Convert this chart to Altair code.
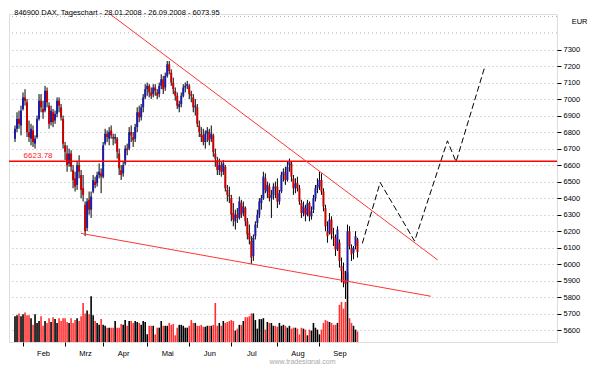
import altair as alt
import pandas as pd

title_text = "846900  DAX, Tageschart - 28.01.2008 - 26.09.2008 - 6073.95"
currency = "EUR"
watermark = "www.tradesignal.com"

month_labels = ["Feb", "Mrz", "Apr", "Mai", "Jun", "Jul", "Aug", "Sep"]
month_starts = [4, 25, 44, 66, 87, 108, 131, 152]
price_ticks = list(range(5600, 7400, 100))
extra_grid = [7400, 7500]

opens = [
    6760, 6820, 6880, 6840, 6940, 7010, 6980, 6800, 6760, 6810,
    6730, 6770, 6880, 6990, 6940, 6930, 7050, 6960, 6860, 6920,
    6870, 6910, 6990, 6950, 6880, 6720, 6670, 6610, 6670, 6570,
    6520, 6480, 6600, 6540, 6460, 6360, 6220, 6390, 6330, 6440,
    6500, 6490, 6540, 6550, 6530, 6730, 6790, 6760, 6810, 6770,
    6760, 6760, 6670, 6570, 6550, 6610, 6700, 6700, 6800, 6770,
    6760, 6830, 6920, 6890, 6950, 7010, 7060, 7080, 7040, 7030,
    7070, 7040, 7030, 7080, 7120, 7070, 7140, 7210, 7160, 7100,
    7050, 7020, 6950, 6970, 7020, 7070, 7080, 7080, 7030, 7010,
    6950, 6950, 6840, 6790, 6780, 6740, 6790, 6800, 6760, 6780,
    6670, 6630, 6570, 6600, 6560, 6590, 6450, 6420, 6400, 6310,
    6260, 6300, 6280, 6370, 6310, 6340, 6260, 6190, 6140, 6050,
    6170, 6250, 6300, 6370, 6400, 6520, 6440, 6470, 6400, 6420,
    6470, 6470, 6380, 6440, 6540, 6550, 6510, 6600, 6610, 6520,
    6460, 6490, 6460, 6370, 6310, 6340, 6300, 6370, 6290, 6330,
    6400, 6460, 6470, 6510, 6440, 6340, 6200, 6190, 6270, 6170,
    6160, 6090, 6130, 5990, 5960, 5900, 5890, 6200, 6100, 6070,
    6110, 6150,
]
highs = [
    6840, 6920, 6930, 6960, 7040, 7060, 7000, 6870, 6850, 6840,
    6780, 6900, 7030, 7030, 6990, 7080, 7070, 6980, 6960, 6940,
    6930, 7010, 7010, 6970, 6900, 6740, 6720, 6700, 6690, 6600,
    6560, 6620, 6660, 6570, 6540, 6380, 6400, 6440, 6440, 6540,
    6530, 6560, 6610, 6580, 6740, 6820, 6810, 6830, 6840, 6790,
    6790, 6770, 6700, 6600, 6620, 6720, 6730, 6830, 6840, 6800,
    6850, 6950, 6960, 6970, 7030, 7090, 7100, 7090, 7070, 7090,
    7090, 7060, 7100, 7150, 7140, 7160, 7230, 7230, 7180, 7130,
    7070, 7040, 6990, 7040, 7090, 7100, 7110, 7090, 7050, 7030,
    7000, 6970, 6870, 6830, 6820, 6810, 6830, 6820, 6840, 6790,
    6700, 6650, 6640, 6620, 6630, 6600, 6480, 6470, 6420, 6370,
    6330, 6340, 6410, 6390, 6380, 6350, 6280, 6240, 6170, 6180,
    6260, 6330, 6400, 6420, 6560, 6550, 6500, 6490, 6450, 6490,
    6500, 6520, 6450, 6560, 6580, 6590, 6620, 6640, 6620, 6540,
    6520, 6530, 6480, 6390, 6380, 6360, 6390, 6380, 6350, 6420,
    6480, 6520, 6560, 6550, 6460, 6360, 6260, 6310, 6290, 6220,
    6180, 6230, 6150, 6040, 6010, 5960, 6240, 6230, 6120, 6110,
    6200, 6160,
]
lows = [
    6740, 6800, 6820, 6780, 6930, 6960, 6770, 6740, 6720, 6710,
    6700, 6760, 6870, 6920, 6880, 6920, 6950, 6820, 6840, 6830,
    6850, 6890, 6920, 6870, 6700, 6630, 6560, 6590, 6560, 6460,
    6440, 6450, 6520, 6400, 6380, 6170, 6200, 6300, 6280, 6430,
    6460, 6470, 6520, 6430, 6520, 6720, 6740, 6720, 6760, 6720,
    6730, 6640, 6540, 6510, 6530, 6600, 6660, 6690, 6740, 6710,
    6740, 6800, 6860, 6870, 6920, 7000, 7020, 7010, 7000, 7010,
    7020, 7000, 7010, 7060, 7030, 7050, 7130, 7150, 7080, 7030,
    6990, 6940, 6920, 6950, 7010, 7040, 7060, 7000, 6980, 6920,
    6900, 6830, 6770, 6740, 6720, 6700, 6740, 6720, 6740, 6650,
    6590, 6540, 6540, 6530, 6540, 6440, 6380, 6370, 6260, 6230,
    6210, 6250, 6270, 6280, 6290, 6230, 6150, 6120, 6000, 6020,
    6150, 6220, 6280, 6330, 6390, 6430, 6400, 6380, 6280, 6390,
    6400, 6340, 6360, 6430, 6500, 6480, 6500, 6560, 6500, 6420,
    6430, 6440, 6360, 6280, 6290, 6260, 6290, 6260, 6270, 6310,
    6380, 6430, 6450, 6420, 6320, 6200, 6130, 6180, 6150, 6110,
    6050, 6080, 5980, 5890, 5860, 5790, 5880, 6090, 6020, 6030,
    6090, 6040,
]
closes = [
    6820, 6880, 6850, 6930, 7010, 6990, 6800, 6770, 6820, 6740,
    6760, 6880, 6990, 6950, 6920, 7050, 6980, 6850, 6930, 6860,
    6910, 6990, 6960, 6890, 6730, 6680, 6600, 6670, 6590, 6510,
    6470, 6600, 6560, 6450, 6420, 6200, 6380, 6330, 6410, 6510,
    6480, 6540, 6560, 6530, 6720, 6790, 6770, 6800, 6780, 6760,
    6770, 6680, 6580, 6540, 6600, 6700, 6690, 6800, 6780, 6750,
    6830, 6920, 6890, 6950, 7010, 7060, 7080, 7040, 7020, 7070,
    7050, 7020, 7080, 7120, 7060, 7140, 7210, 7170, 7100, 7060,
    7020, 6960, 6970, 7020, 7070, 7080, 7090, 7030, 7020, 6950,
    6960, 6850, 6800, 6770, 6740, 6790, 6810, 6750, 6790, 6680,
    6640, 6570, 6600, 6560, 6610, 6460, 6420, 6410, 6300, 6270,
    6300, 6280, 6380, 6300, 6350, 6260, 6180, 6150, 6040, 6160,
    6240, 6300, 6380, 6400, 6530, 6450, 6480, 6400, 6420, 6470,
    6460, 6380, 6430, 6540, 6560, 6510, 6590, 6620, 6530, 6460,
    6490, 6460, 6380, 6310, 6350, 6300, 6370, 6290, 6320, 6400,
    6460, 6480, 6510, 6440, 6350, 6230, 6170, 6270, 6180, 6160,
    6090, 6210, 6020, 5960, 5890, 5880, 6200, 6110, 6060, 6100,
    6170, 6073.95,
]
volumes = [
    27, 28, 30, 27, 29, 31, 28, 28, 25, 18,
    29, 20, 22, 27, 17, 22, 20, 25, 21, 26,
    24, 20, 25, 22, 25, 25, 21, 20, 25, 20,
    23, 25, 22, 27, 41, 30, 33, 29, 48, 28,
    22, 20, 18, 24, 18, 17, 15, 15, 15, 15,
    22, 15, 15, 19, 18, 23, 17, 22, 22, 20,
    22, 21, 20, 18, 22, 21, 8, 17, 17, 17,
    8, 15, 15, 22, 17, 17, 17, 20, 18, 19,
    7, 15, 18, 18, 17, 15, 15, 17, 23, 20,
    20, 17, 17, 18, 16, 16, 17, 17, 17, 18,
    41, 17, 20, 17, 22, 20, 21, 22, 23, 22,
    12, 14, 18, 18, 22, 26, 26, 27, 30, 30,
    23, 14, 24, 24, 25, 13, 21, 20, 20, 17,
    17, 16, 20, 17, 18, 17, 15, 17, 14, 15,
    15, 14, 8, 15, 14, 13, 7, 13, 12, 20,
    15, 13, 8, 13, 20, 23, 22, 21, 20, 18,
    18, 20, 39, 42, 35, 42, 73, 25, 20, 17,
    13, 11,
]

level_value = 6623.78
level_label = "6623.78"
level_label_at = 4.3

upper_x = [47.4, 211.0]
upper_y = [7515, 6026]
lower_x = [32.9, 207.6]
lower_y = [6187, 5806]
proj_x = [173.4, 182.3, 199.5, 215.9, 220.2, 234.3]
proj_y = [6126, 6495, 6140, 6747, 6620, 7186]

FONT = "Liberation Sans"
n = len(closes)
df = pd.DataFrame({
    "i": list(range(n)), "open": opens, "high": highs,
    "low": lows, "close": closes, "vol": volumes,
})
df["dir"] = ["up" if c >= o else "down" for o, c in zip(opens, closes)]

label_expr = " : ".join(
    f"datum.value == {v} ? '{m}'" for v, m in zip(month_starts, month_labels)
) + " : ''"

xs = alt.Scale(domain=[-0.5, 268.1], nice=False, zero=False)
ys = alt.Scale(domain=[5529, 7515], nice=False, zero=False)

x_axis = alt.Axis(
    values=month_starts, labelExpr=label_expr, grid=False, domain=False,
    ticks=True, tickSize=4, tickColor="#000000", labelOffset=20, labelPadding=3,
    labelFont=FONT, labelFontSize=7.5, labelColor="#000000",
    labelFlush=False, labelOverlap=False,
    title=watermark, titleFont=FONT, titleFontSize=7, titleFontWeight="normal",
    titleColor="#a8a8a8", titleX=293, titleY=19, titleAlign="center",
    titleBaseline="middle",
)
y_axis = alt.Axis(
    orient="right", values=price_ticks, format="d", grid=True, gridDash=[1, 3],
    gridColor="#b4b4b4", gridWidth=1, domain=False, tickSize=4,
    tickColor="#000000", labelPadding=2, labelFont=FONT, labelFontSize=7.5,
    labelColor="#000000", labelOverlap=False,
    title=currency, titleAngle=0, titleX=30, titleY=9, titleAlign="right",
    titleBaseline="alphabetic", titleFont=FONT, titleFontSize=7.5,
    titleFontWeight="normal", titleColor="#000000",
)

X = alt.X("i:Q", scale=xs, axis=x_axis)


def Y(field):
    return alt.Y(field, scale=ys, axis=y_axis)


vol = alt.Chart(df).mark_bar(size=1.6).encode(
    x=X,
    y=alt.Y("vol:Q", scale=alt.Scale(domain=[0, 344]), axis=None),
    color=alt.Color("dir:N", scale=alt.Scale(domain=["up", "down"], range=["#000000", "#ff3030"]), legend=None),
)

grid_extra = alt.Chart(pd.DataFrame({"price": extra_grid})).mark_rule(
    strokeDash=[1, 3], color="#b4b4b4", strokeWidth=1
).encode(y=Y("price:Q"))

wick = alt.Chart(df).mark_rule(color="#000000", strokeWidth=1).encode(
    x=X, y=Y("low:Q"), y2="high:Q"
)
body = alt.Chart(df).mark_bar(size=2).encode(
    x=X, y=Y("open:Q"), y2="close:Q",
    color=alt.Color("dir:N", scale=alt.Scale(domain=["up", "down"], range=["#1c1ca8", "#c80000"]), legend=None),
)

level_df = pd.DataFrame({"i": [level_label_at], "price": [level_value], "label": [level_label]})
level = alt.Chart(level_df).mark_rule(color="#ff0000", strokeWidth=1.5).encode(y=Y("price:Q"))
level_text = alt.Chart(level_df).mark_text(
    align="left", baseline="bottom", dy=-1, color="#ff2020", font=FONT, fontSize=8
).encode(x=X, y=Y("price:Q"), text="label:N")

trend_df = pd.DataFrame({
    "seg": ["upper"] * len(upper_x) + ["lower"] * len(lower_x),
    "i": upper_x + lower_x,
    "price": upper_y + lower_y,
})
trend = alt.Chart(trend_df).mark_line(color="#ff3535", strokeWidth=1).encode(
    x=X, y=Y("price:Q"), detail="seg:N"
)

proj_df = pd.DataFrame({"i": proj_x, "price": proj_y})
proj = alt.Chart(proj_df).mark_line(color="#000000", strokeDash=[6, 3], strokeWidth=1).encode(
    x=X, y=Y("price:Q")
)

price = alt.layer(grid_extra, wick, body, level, level_text, trend, proj)

chart = alt.layer(vol, price).resolve_scale(
    y="independent", color="independent"
).properties(
    width=548, height=328, padding=0,
    title=alt.TitleParams(
        text=title_text, anchor="start", offset=-10, baseline="alphabetic",
        dx=6, fontSize=7.5, font=FONT, fontWeight="normal", color="#000000",
        orient="top",
    ),
).configure_view(strokeWidth=0).configure(background="white")

chart.save("out.html", embed_options={"renderer": "svg", "actions": False})
